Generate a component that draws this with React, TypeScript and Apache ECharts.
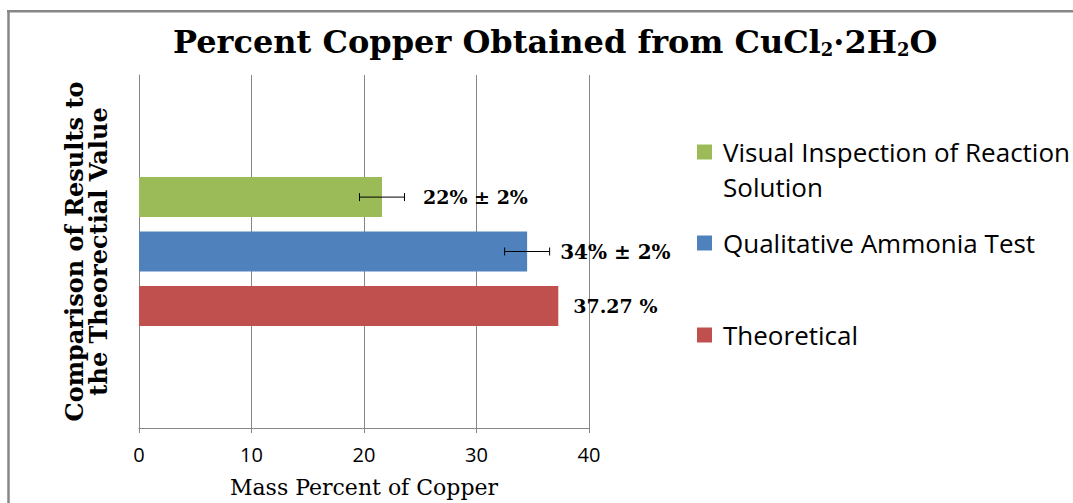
import React, { useEffect, useRef } from "react";
import * as echarts from "echarts";

// ---- data ----
const categories = [""];
const seriesNames = [
  "Visual Inspection of Reaction Solution",
  "Qualitative Ammonia Test",
  "Theoretical",
];
const values = [21.6, 34.5, 37.27];
const errors = [2, 2, 0];
const valueLabels = ["22% ± 2%", "34% ± 2%", "37.27 %"];
const colors = ["#9BBB59", "#4F81BD", "#C0504D"];
const xMin = 0;
const xMax = 40;
const xInterval = 10;

const BAR_W = 40;
const BAR_GAP = 0.36;
const SERIF = "'DejaVu Serif', Georgia, serif";
const SANS = "'Open Sans', 'Noto Sans', sans-serif";

export default function App() {
  const ref = useRef<HTMLDivElement>(null);
  useEffect(() => {
    if (!ref.current) return;
    const chart = echarts.init(ref.current, null, { renderer: "svg" });
    const labelDist = [41, 33, 15];
    const labelSize = [19, 20, 19];
    const legendTops = [139, 230, 322];
    const pitch = BAR_W * (1 + BAR_GAP);

    const barSeries = seriesNames.map((name, i) => ({
      type: "bar",
      name,
      data: [values[i]],
      barWidth: BAR_W,
      barGap: BAR_GAP * 100 + "%",
      itemStyle: { color: colors[i] },
      label: {
        show: true,
        position: "right",
        distance: labelDist[i],
        formatter: () => valueLabels[i],
        fontFamily: SERIF,
        fontWeight: "bold",
        fontSize: labelSize[i],
        color: "#000",
      },
    }));

    const errSeries = {
      type: "custom",
      name: "error",
      z: 5,
      silent: true,
      clip: false,
      encode: { x: 0, y: 1 },
      data: values
        .map((v, i) => [v, 0, errors[i], i])
        .filter((d) => d[2] > 0),
      renderItem: (params: any, api: any) => {
        const v = api.value(0);
        const e = api.value(2);
        const slot = api.value(3);
        const base = api.coord([v, 0]);
        const yc = base[1] + (slot - 1) * pitch;
        const x1 = api.coord([v - e, 0])[0];
        const x2 = api.coord([v + e, 0])[0];
        const st = { stroke: "#000", lineWidth: 1 };
        return {
          type: "group",
          children: [
            { type: "line", shape: { x1, y1: yc, x2, y2: yc }, style: st },
            { type: "line", shape: { x1, y1: yc - 4, x2: x1, y2: yc + 4 }, style: st },
            { type: "line", shape: { x1: x2, y1: yc - 4, x2, y2: yc + 4 }, style: st },
          ],
        };
      },
    };

    const legends = [0, 1, 2].map((i) => ({
      data: [seriesNames[i]],
      left: 697,
      top: legendTops[i],
      padding: 0,
      orient: "vertical",
      icon: "rect",
      itemWidth: 15,
      itemHeight: 15,
      selectedMode: false,
      formatter: (n: string) =>
        n === "Visual Inspection of Reaction Solution" ? "Visual Inspection of Reaction" : n,
      textStyle: {
        fontFamily: SANS,
        fontSize: 26,
        color: "#000",
        padding: [0, 0, 0, 6],
      },
    }));

    const option: any = {
      animation: false,
      backgroundColor: "#fff",
      title: {
        left: 168,
        top: 21,
        text: "{a|Percent Copper Obtained from CuCl}{s|2}{a|·2H}{s|2}{a|O}",
        textStyle: {
          rich: {
            a: { fontFamily: SERIF, fontWeight: "bold", fontSize: 32, color: "#000" },
            s: {
              fontFamily: SERIF,
              fontWeight: "bold",
              fontSize: 18,
              color: "#000",
              verticalAlign: "bottom",
            },
          },
        },
      },
      legend: legends,
      grid: { left: 139, right: 484, top: 75, bottom: 71, containLabel: false },
      xAxis: {
        type: "value",
        min: xMin,
        max: xMax,
        interval: xInterval,
        name: "Mass Percent of Copper",
        nameLocation: "middle",
        nameGap: 48,
        nameTextStyle: { fontFamily: SERIF, fontSize: 22, color: "#000" },
        axisLine: { show: true, lineStyle: { color: "#868686" } },
        axisTick: { show: true, length: 5, lineStyle: { color: "#868686" } },
        splitLine: { show: true, lineStyle: { color: "#868686" } },
        axisLabel: { fontFamily: SANS, fontSize: 20, color: "#000", margin: 16 },
      },
      yAxis: {
        type: "category",
        data: categories,
        name: "Comparison of Results to\nthe Theorectial Value",
        nameLocation: "middle",
        nameRotate: 90,
        nameGap: 29,
        nameTextStyle: {
          fontFamily: SERIF,
          fontWeight: "bold",
          fontSize: 24,
          lineHeight: 24,
          color: "#000",
        },
        axisLine: { show: true, lineStyle: { color: "#868686" } },
        axisTick: { show: false },
        axisLabel: { show: false },
        splitLine: { show: false },
      },
      graphic: [
        {
          type: "text",
          x: 723,
          y: 187,
          style: {
            text: "Solution",
            font: `26px ${SANS}`,
            fill: "#000",
            verticalAlign: "middle",
          },
        },
        {
          type: "line",
          shape: { x1: 8.5, y1: 10, x2: 8.5, y2: 503 },
          style: { stroke: "#878787", lineWidth: 2.5 },
        },
        {
          type: "line",
          shape: { x1: 7, y1: 11.2, x2: 1073, y2: 11.2 },
          style: { stroke: "#878787", lineWidth: 2.5 },
        },
      ],
      series: [...barSeries, errSeries],
    };
    chart.setOption(option);
    return () => chart.dispose();
  }, []);
  return (
    <div
      ref={ref}
      style={{ position: "fixed", left: 0, top: 0, width: 1073, height: 503 }}
    />
  );
}
